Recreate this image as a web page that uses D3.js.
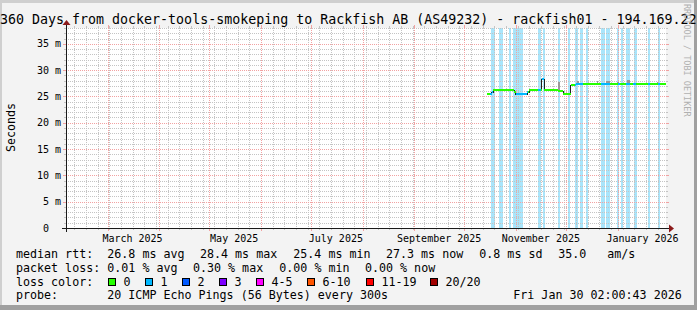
<!DOCTYPE html>
<html>
<head>
<meta charset="utf-8">
<script src="https://cdn.jsdelivr.net/npm/d3@7"></script>
<style>
  html, body { margin: 0; padding: 0; background: #f3f3f3; }
  svg { display: block; font-family: "DejaVu Sans Mono", monospace; }
</style>
</head>
<body>
<div id="chart"></div>
<script>
// SmokePing 360 day graph, redrawn with d3

const titleText = '360 Days from docker-tools-smokeping to Rackfish AB (AS49232) - rackfish01 - 194.169.22';
const yLabel = 'Seconds';
const watermark = 'RRDTOOL / TOBI OETIKER';
const endTime = '2026-01-30T02:00:43';
const spanDays = 360;

const yTicks = [0, 5, 10, 15, 20, 25, 30, 35];
const monthLabels = ['2025-03-01', '2025-05-01', '2025-07-01', '2025-09-01', '2025-11-01', '2026-01-01'];

// median rtt (ms), value holds until next time
const medianTimes = ['2025-10-14T10:00', '2025-10-17T14:00', '2025-10-18T12:00', '2025-10-31T00:00',
    '2025-11-01T00:00', '2025-11-07T19:00', '2025-11-09T00:00', '2025-11-16T10:00', '2025-11-18T00:00',
    '2025-11-26T12:00', '2025-11-29T12:00', '2025-12-03T19:00', '2025-12-07T00:00', '2026-01-29T19:00'];
const medianValues = [25.4, 25.8, 26.3, 25.9, 25.4, 25.8, 26.3, 28.4, 26.3, 26.0, 25.4, 27.1, 27.3, 27.3];

// periods with packet loss (background stripes)
const lossBands = [
    ['2025-10-17T00:00', '2025-10-19T10:00'], ['2025-10-22T02:00', '2025-10-24T05:00'],
    ['2025-10-28T00:00', '2025-10-28T19:00'], ['2025-10-30T00:00', '2025-11-05T00:00'],
    ['2025-11-14T10:00', '2025-11-15T19:00'], ['2025-11-17T00:00', '2025-11-18T10:00'],
    ['2025-11-26T05:00', '2025-11-27T14:00'], ['2025-12-02T10:00', '2025-12-03T10:00'],
    ['2025-12-06T10:00', '2025-12-08T10:00'], ['2025-12-09T14:00', '2025-12-11T10:00'],
    ['2025-12-12T22:00', '2025-12-14T05:00'], ['2025-12-21T19:00', '2025-12-24T10:00'],
    ['2025-12-25T00:00', '2025-12-27T10:00'], ['2025-12-31T19:00', '2026-01-02T00:00'],
    ['2026-01-03T05:00', '2026-01-04T12:00'], ['2026-01-06T00:00', '2026-01-08T10:00'],
    ['2026-01-10T19:00', '2026-01-12T14:00'], ['2026-01-19T05:00', '2026-01-20T14:00'],
    ['2026-01-25T05:00', '2026-01-26T17:00']
];

// where the median line itself is drawn in the "1 lost" colour
const lossLine = [
    ['2025-10-16T07:00', '2025-10-18T05:00'], ['2025-11-01T07:00', '2025-11-08T05:00'],
    ['2025-11-14T10:00', '2025-11-16T00:00'], ['2025-11-16T14:00', '2025-11-18T00:00'],
    ['2025-12-06T10:00', '2025-12-11T10:00'], ['2025-12-21T19:00', '2025-12-27T10:00'],
    ['2026-01-01T10:00', '2026-01-02T10:00'], ['2026-01-06T00:00', '2026-01-08T10:00'],
    ['2026-01-10T10:00', '2026-01-11T19:00'], ['2026-01-19T05:00', '2026-01-20T05:00'],
    ['2026-01-25T05:00', '2026-01-26T05:00']
];

// smoke above the median: start, end, top (ms)
const smoke = [
    ['2025-11-26T05:00', '2025-11-27T05:00', 27.7], ['2025-12-07T19:00', '2025-12-09T00:00', 27.9],
    ['2025-12-19T10:00', '2025-12-20T14:00', 27.9], ['2025-12-25T00:00', '2025-12-27T10:00', 28.0],
    ['2025-12-31T14:00', '2026-01-02T00:00', 27.8], ['2026-01-06T14:00', '2026-01-08T10:00', 28.1],
    ['2026-01-24T14:00', '2026-01-25T10:00', 27.8]
];

const rttStats = ['26.8 ms avg', '28.4 ms max', '25.4 ms min', '27.3 ms now', '0.8 ms sd', '35.0', 'am/s'];
const lossStats = ['0.01 % avg', '0.30 % max', '0.00 % min', '0.00 % now'];
const lossNames = ['0', '1', '2', '3', '4-5', '6-10', '11-19', '20/20'];
const lossColors = ['#26ff00', '#00b8ff', '#0059ff', '#7e00ff', '#ff00ff', '#ff5500', '#ff0000', '#a10000'];
const probeText = '20 ICMP Echo Pings (56 Bytes) every 300s';
const dateText = 'Fri Jan 30 02:00:43 2026';

const width = 697, height = 310;
const X0 = 66, X1 = 666, Y0 = 228, Y1 = 28;
const yMax = 38;

const parseT = d3.utcParse('%Y-%m-%dT%H:%M');
const parseFull = d3.utcParse('%Y-%m-%dT%H:%M:%S');
const parseD = d3.utcParse('%Y-%m-%d');

const tEnd = parseFull(endTime);
const tStart = new Date(tEnd.getTime() - spanDays * 864e5);

const x = d3.scaleUtc().domain([tStart, tEnd]).range([X0, X1]);
const y = d3.scaleLinear().domain([0, yMax]).range([Y0, Y1]);
const px = v => Math.round(v) + 0.5;

const svg = d3.select('#chart').append('svg')
    .attr('width', width)
    .attr('height', height);

// background + 3d frame
svg.append('rect').attr('width', width).attr('height', height).attr('fill', '#f3f3f3');
svg.append('rect').attr('x', 0).attr('y', 0).attr('width', width).attr('height', 3).attr('fill', '#cfcfcf');
svg.append('rect').attr('x', 0).attr('y', 0).attr('width', 2).attr('height', height).attr('fill', '#cfcfcf');
svg.append('rect').attr('x', 0).attr('y', height - 5).attr('width', width).attr('height', 5).attr('fill', '#a0a0a0');
svg.append('rect').attr('x', width - 3).attr('y', 0).attr('width', 3).attr('height', height).attr('fill', '#a0a0a0');

// canvas
svg.append('rect')
    .attr('x', X0).attr('y', Y1)
    .attr('width', X1 - X0).attr('height', Y0 - Y1)
    .attr('fill', '#ffffff');

// loss stripes
svg.append('g').selectAll('rect')
    .data(lossBands)
    .enter().append('rect')
    .attr('x', d => Math.round(x(parseT(d[0]))))
    .attr('y', Y1)
    .attr('width', d => Math.max(1, Math.round(x(parseT(d[1]))) - Math.round(x(parseT(d[0])))))
    .attr('height', Y0 - Y1)
    .attr('fill', '#a9e5fb')
    .attr('shape-rendering', 'crispEdges');

// grid
const grid = svg.append('g').attr('shape-rendering', 'crispEdges');
const minorCol = '#c4c4c4', majorCol = '#f2a2a2';

const hMinor = d3.range(1, yMax + 1).filter(v => v % 5 !== 0);
hMinor.forEach(v => {
    const yy = px(y(v));
    grid.append('line').attr('x1', X0).attr('x2', X1).attr('y1', yy).attr('y2', yy)
        .attr('stroke', minorCol).attr('stroke-dasharray', '1,1');
    grid.append('line').attr('x1', X0 - 2).attr('x2', X0).attr('y1', yy).attr('y2', yy).attr('stroke', minorCol);
    grid.append('line').attr('x1', X1).attr('x2', X1 + 2).attr('y1', yy).attr('y2', yy).attr('stroke', minorCol);
});

const sundays = d3.utcSunday.range(tStart, tEnd);
sundays.forEach(t => {
    const xx = px(x(t));
    grid.append('line').attr('x1', xx).attr('x2', xx).attr('y1', Y1).attr('y2', Y0)
        .attr('stroke', minorCol).attr('stroke-dasharray', '1,1');
    grid.append('line').attr('x1', xx).attr('x2', xx).attr('y1', Y0).attr('y2', Y0 + 2).attr('stroke', minorCol);
    grid.append('line').attr('x1', xx).attr('x2', xx).attr('y1', Y1 - 2).attr('y2', Y1).attr('stroke', minorCol);
});

yTicks.filter(v => v > 0).forEach(v => {
    const yy = px(y(v));
    grid.append('line').attr('x1', X0).attr('x2', X1).attr('y1', yy).attr('y2', yy)
        .attr('stroke', majorCol).attr('stroke-dasharray', '1,1');
    grid.append('line').attr('x1', X0 - 3).attr('x2', X0).attr('y1', yy).attr('y2', yy).attr('stroke', majorCol);
    grid.append('line').attr('x1', X1).attr('x2', X1 + 3).attr('y1', yy).attr('y2', yy).attr('stroke', majorCol);
});

const months = d3.utcMonth.range(tStart, tEnd);
months.forEach(t => {
    const xx = px(x(t));
    grid.append('line').attr('x1', xx).attr('x2', xx).attr('y1', Y1).attr('y2', Y0)
        .attr('stroke', majorCol).attr('stroke-dasharray', '1,1');
    grid.append('line').attr('x1', xx).attr('x2', xx).attr('y1', Y0).attr('y2', Y0 + 3).attr('stroke', majorCol);
    grid.append('line').attr('x1', xx).attr('x2', xx).attr('y1', Y1 - 3).attr('y2', Y1).attr('stroke', majorCol);
});

// smoke
const medianPts = medianTimes.map((t, i) => ({ t: parseT(t), v: medianValues[i] }));
function medianAt(t) {
    let v = medianPts[0].v;
    medianPts.forEach(p => { if (p.t <= t) v = p.v; });
    return v;
}
svg.append('g').selectAll('rect')
    .data(smoke)
    .enter().append('rect')
    .attr('x', d => Math.round(x(parseT(d[0]))))
    .attr('width', d => Math.max(1, Math.round(x(parseT(d[1]))) - Math.round(x(parseT(d[0])))))
    .attr('y', d => Math.round(y(d[2])))
    .attr('height', d => Math.round(y(medianAt(parseT(d[0])))) - Math.round(y(d[2])))
    .attr('fill', '#9a9a9a')
    .attr('shape-rendering', 'crispEdges');

// thin dark median line (shows the steps)
const stepLine = d3.line()
    .x(d => x(d.t))
    .y(d => Math.round(y(d.v)))
    .curve(d3.curveStepAfter);
svg.append('path')
    .datum(medianPts)
    .attr('d', stepLine)
    .attr('fill', 'none')
    .attr('stroke', '#202020')
    .attr('stroke-width', 1)
    .attr('shape-rendering', 'crispEdges');

// coloured median segments, split by loss
const lossIv = lossLine.map(d => [parseT(d[0]), parseT(d[1])]);
const segs = [];
for (let i = 0; i < medianPts.length - 1; i++) {
    const a = medianPts[i].t, b = medianPts[i + 1].t, v = medianPts[i].v;
    let cuts = [a, b];
    lossIv.forEach(iv => {
        if (iv[0] > a && iv[0] < b) cuts.push(iv[0]);
        if (iv[1] > a && iv[1] < b) cuts.push(iv[1]);
    });
    cuts.sort((p, q) => p - q);
    for (let k = 0; k < cuts.length - 1; k++) {
        const mid = new Date((cuts[k].getTime() + cuts[k + 1].getTime()) / 2);
        const lost = lossIv.some(iv => mid >= iv[0] && mid < iv[1]);
        segs.push({ a: cuts[k], b: cuts[k + 1], v: v, c: lost ? lossColors[1] : lossColors[0] });
    }
}
svg.append('g').selectAll('line')
    .data(segs)
    .enter().append('line')
    .attr('x1', d => Math.round(x(d.a)))
    .attr('x2', d => Math.round(x(d.b)))
    .attr('y1', d => Math.round(y(d.v)))
    .attr('y2', d => Math.round(y(d.v)))
    .attr('stroke', d => d.c)
    .attr('stroke-width', 2)
    .attr('shape-rendering', 'crispEdges');

// axes
const axisCol = '#1a1a1a', arrowCol = '#8b1a1a';
svg.append('line').attr('x1', X0 - 4).attr('x2', X1 + 4).attr('y1', Y0 + 0.5).attr('y2', Y0 + 0.5)
    .attr('stroke', axisCol).attr('shape-rendering', 'crispEdges');
svg.append('line').attr('x1', X0 + 0.5).attr('x2', X0 + 0.5).attr('y1', Y0 + 4).attr('y2', Y1 - 4)
    .attr('stroke', axisCol).attr('shape-rendering', 'crispEdges');
svg.append('path')
    .attr('d', `M${X1 + 3},${Y0 - 3.5}L${X1 + 3},${Y0 + 4.5}L${X1 + 8},${Y0 + 0.5}Z`)
    .attr('fill', arrowCol);
svg.append('path')
    .attr('d', `M${X0 - 3.5},${Y1 - 3}L${X0 + 4.5},${Y1 - 3}L${X0 + 0.5},${Y1 - 8}Z`)
    .attr('fill', arrowCol);

// y tick labels
const charW = 6.02;
svg.append('g').selectAll('text')
    .data(yTicks)
    .enter().append('text')
    .attr('x', d => d === 0 ? 61 - 2 * charW : 61)
    .attr('y', d => y(d) + 3.5)
    .attr('text-anchor', 'end')
    .attr('font-size', '10px')
    .attr('fill', '#000')
    .text(d => d === 0 ? '0' : d + ' m');

// x month labels, centred on middle of the month
svg.append('g').selectAll('text')
    .data(monthLabels)
    .enter().append('text')
    .attr('x', d => x(new Date(parseD(d).getTime() + 15 * 864e5)))
    .attr('y', 241.5)
    .attr('text-anchor', 'middle')
    .attr('font-size', '10px')
    .attr('fill', '#000')
    .text(d => d3.utcFormat('%B %Y')(parseD(d)));

// title
svg.append('text')
    .attr('x', 0)
    .attr('y', 24)
    .attr('font-size', '13.3px')
    .attr('fill', '#000')
    .text(titleText);

// y label
svg.append('text')
    .attr('transform', 'translate(15,127.5) rotate(-90)')
    .attr('text-anchor', 'middle')
    .attr('font-size', '11.67px')
    .attr('fill', '#000')
    .text(yLabel);

// watermark
svg.append('text')
    .attr('transform', 'translate(683.5,4) rotate(90)')
    .attr('font-size', '8.5px')
    .attr('fill', '#b0b0b0')
    .text(watermark);

// legend
const lg = svg.append('g').attr('font-size', '11.67px').attr('fill', '#000')
    .style('white-space', 'pre');
const rows = [258.3, 272, 285.7, 299.4];
function put(xx, yy, s) {
    lg.append('text').attr('x', xx).attr('y', yy).text(s);
}
put(16, rows[0], 'median rtt:');
[107.3, 200, 293.3, 386, 479.3, 558.3, 607.3].forEach((xx, i) => put(xx, rows[0], rttStats[i]));
put(16, rows[1], 'packet loss:');
[107.3, 193, 279.3, 365].forEach((xx, i) => put(xx, rows[1], lossStats[i]));
put(16, rows[2], 'loss color:');
const boxX = [108.5, 145.5, 182.5, 219.5, 256.5, 307.5, 366.5, 430.5];
boxX.forEach((bx, i) => {
    lg.append('rect')
        .attr('x', bx).attr('y', 278.5)
        .attr('width', 7).attr('height', 7)
        .attr('fill', lossColors[i])
        .attr('stroke', '#000')
        .attr('shape-rendering', 'crispEdges');
    put(bx + 15, rows[2], lossNames[i]);
});
put(16, rows[3], 'probe:');
put(107.3, rows[3], probeText);
put(513.3, rows[3], dateText);
</script>
</body>
</html>
